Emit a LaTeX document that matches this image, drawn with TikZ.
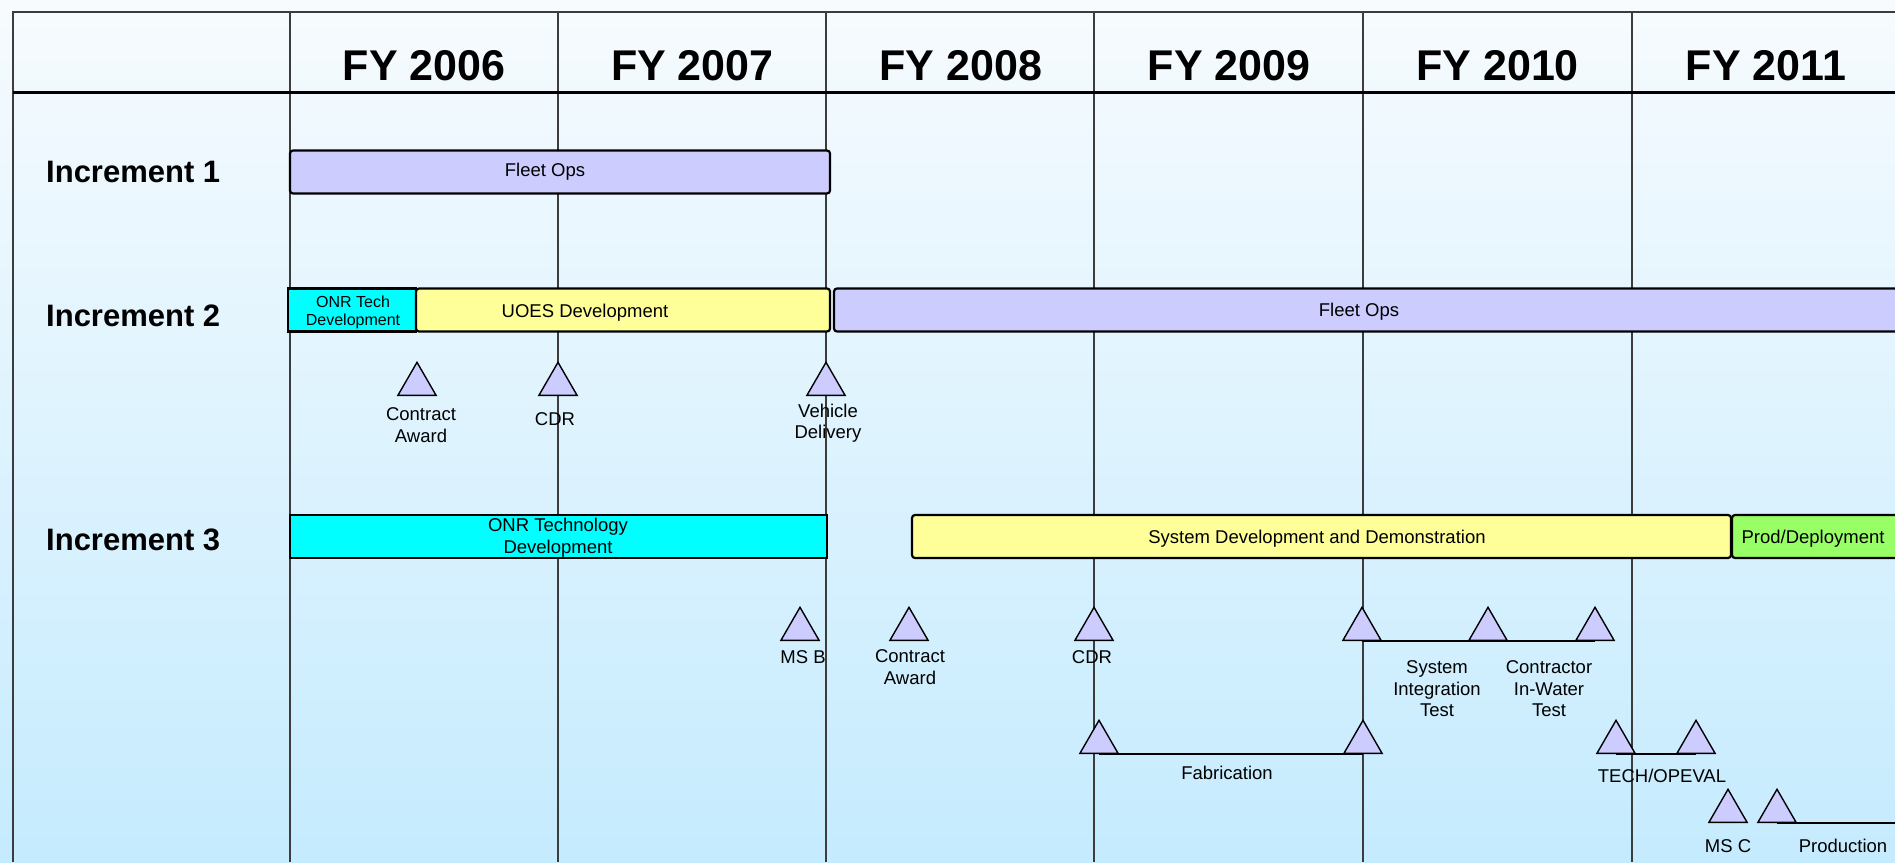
\documentclass[tikz,border=0pt]{standalone}
\usepackage{fontspec}
\setmainfont{Liberation Sans}
\usetikzlibrary{shapes.geometric}
\definecolor{lilac}{RGB}{204,204,255}
\definecolor{aquabar}{RGB}{0,255,255}
\definecolor{lemon}{RGB}{255,255,153}
\definecolor{limebar}{RGB}{153,255,102}
\definecolor{skytop}{RGB}{247,251,254}
\definecolor{skybot}{RGB}{197,235,254}
\definecolor{rule}{RGB}{60,60,60}
\tikzset{
  bar/.style={draw=black,fill=#1,line width=2.2pt,rounded corners=3pt,
    minimum height=43pt,inner sep=0pt},
  bar/.default=lilac,
  bartext/.style={font=\fontsize{18.5}{21.5}\selectfont,align=center,inner sep=0pt},
  smalltext/.style={font=\fontsize{16}{18}\selectfont,align=center,inner sep=0pt},
  year/.style={font=\fontsize{43}{48}\selectfont\bfseries,inner sep=0pt},
  incr/.style={font=\fontsize{31}{36}\selectfont\bfseries,anchor=west,inner sep=0pt},
  mile/.style={regular polygon,regular polygon sides=3,draw=black,fill=lilac,
    line width=1.4pt,minimum size=44pt,inner sep=0pt,anchor=south},
  milelabel/.style={font=\fontsize{18.5}{21.5}\selectfont,align=center,inner sep=0pt},
  track/.style={draw=black,line width=2pt},
}
\begin{document}
\begin{tikzpicture}[x=1pt,y=-1pt]
  \useasboundingbox (0,0) rectangle (1895,862);
  \shade[top color=skytop,bottom color=skybot] (0,0) rectangle (1895,862);
  % frame and year columns
  \draw[rule,line width=1.8pt] (13,862) -- (13,12) -- (1895,12);
  \foreach \x in {290,558,826,1094,1363,1632}
    \draw[rule,line width=1.3pt] (\x,12) -- (\x,862);
  \draw[black,line width=3pt] (13,92) -- (1895,92);
  \foreach \yr [count=\i from 0] in {2006,2007,2008,2009,2010,2011}{
    \pgfmathsetmacro{\x}{424+\i*268.4}
    \node[year] (fy\yr) at (\x,66) {FY \yr};
  }
  \node[incr] (inc1) at (46,172) {Increment 1};
  \node[incr] (inc2) at (46,316) {Increment 2};
  \node[incr] (inc3) at (46,540) {Increment 3};
  % increment 1
  \node[bar,minimum width=540pt] (opsA) at (560,172) {};
  \node[bartext] (opsAt) at (545,172) {Fleet Ops};
  % increment 2
  \node[bar=aquabar,minimum width=128pt,rounded corners=0pt] (onrB) at (352,310) {};
  \node[smalltext] (onrBt) at (353,312) {ONR Tech\\Development};
  \node[bar=lemon,minimum width=414pt] (uoes) at (623,310) {};
  \node[bartext] (uoest) at (585,313) {UOES Development};
  \node[bar,minimum width=1076pt] (opsB) at (1372,310) {};
  \node[bartext] (opsBt) at (1359,312) {Fleet Ops};
  \node[mile] (caB) at (417,396) {};
  \node[mile] (cdrB) at (558,396) {};
  \node[mile] (veh) at (826,396) {};
  \node[milelabel] (caBt) at (421,425) {Contract\\Award};
  \node[milelabel] (cdrBt) at (555,419) {CDR};
  \node[milelabel] (veht) at (828,423) {Vehicle\\Delivery};
  % increment 3
  \node[bar=aquabar,minimum width=537pt,rounded corners=0pt] (onrC) at (558.5,536.5) {};
  \node[bartext] (onrCt) at (558,537.5) {ONR Technology\\Development};
  \node[bar=lemon,minimum width=819pt] (sdd) at (1321.5,536.5) {};
  \node[bartext] (sddt) at (1317,539) {System Development and Demonstration};
  \node[bar=limebar,minimum width=178pt] (prodep) at (1821,536.5) {};
  \node[bartext] (prodept) at (1813,539) {Prod/Deployment};
  \node[mile] (msb) at (800,641) {};
  \node[mile] (caC) at (909,641) {};
  \node[mile] (cdrC) at (1094,641) {};
  \node[mile] (sit) at (1362,641) {};
  \node[mile] (ciwA) at (1488,641) {};
  \node[mile] (ciwB) at (1595,641) {};
  \draw[track] (sit.south) -- (ciwB.south);
  \node[milelabel] (msbt) at (803,657) {MS B};
  \node[milelabel] (caCt) at (910,667) {Contract\\Award};
  \node[milelabel] (cdrCt) at (1092,657) {CDR};
  \node[milelabel] (sitt) at (1437,689) {System\\Integration\\Test};
  \node[milelabel] (ciwt) at (1549,689) {Contractor\\In-Water\\Test};
  \node[mile] (fabA) at (1099,754) {};
  \node[mile] (fabB) at (1363,754) {};
  \draw[track] (fabA.south) -- (fabB.south);
  \node[milelabel] (fabt) at (1227,773) {Fabrication};
  \node[mile] (evalA) at (1616,754) {};
  \node[mile] (evalB) at (1696,754) {};
  \draw[track] (evalA.south) -- (evalB.south);
  \node[milelabel] (evalt) at (1662,776) {TECH/OPEVAL};
  \node[mile] (msc) at (1728,823) {};
  \node[mile] (prod) at (1777,823) {};
  \coordinate (prodend) at (1895,823);
  \draw[track] (prod.south) -- (prodend);
  \node[milelabel] (msct) at (1728,846) {MS C};
  \node[milelabel] (prodt) at (1843,846) {Production};
\end{tikzpicture}
\end{document}
